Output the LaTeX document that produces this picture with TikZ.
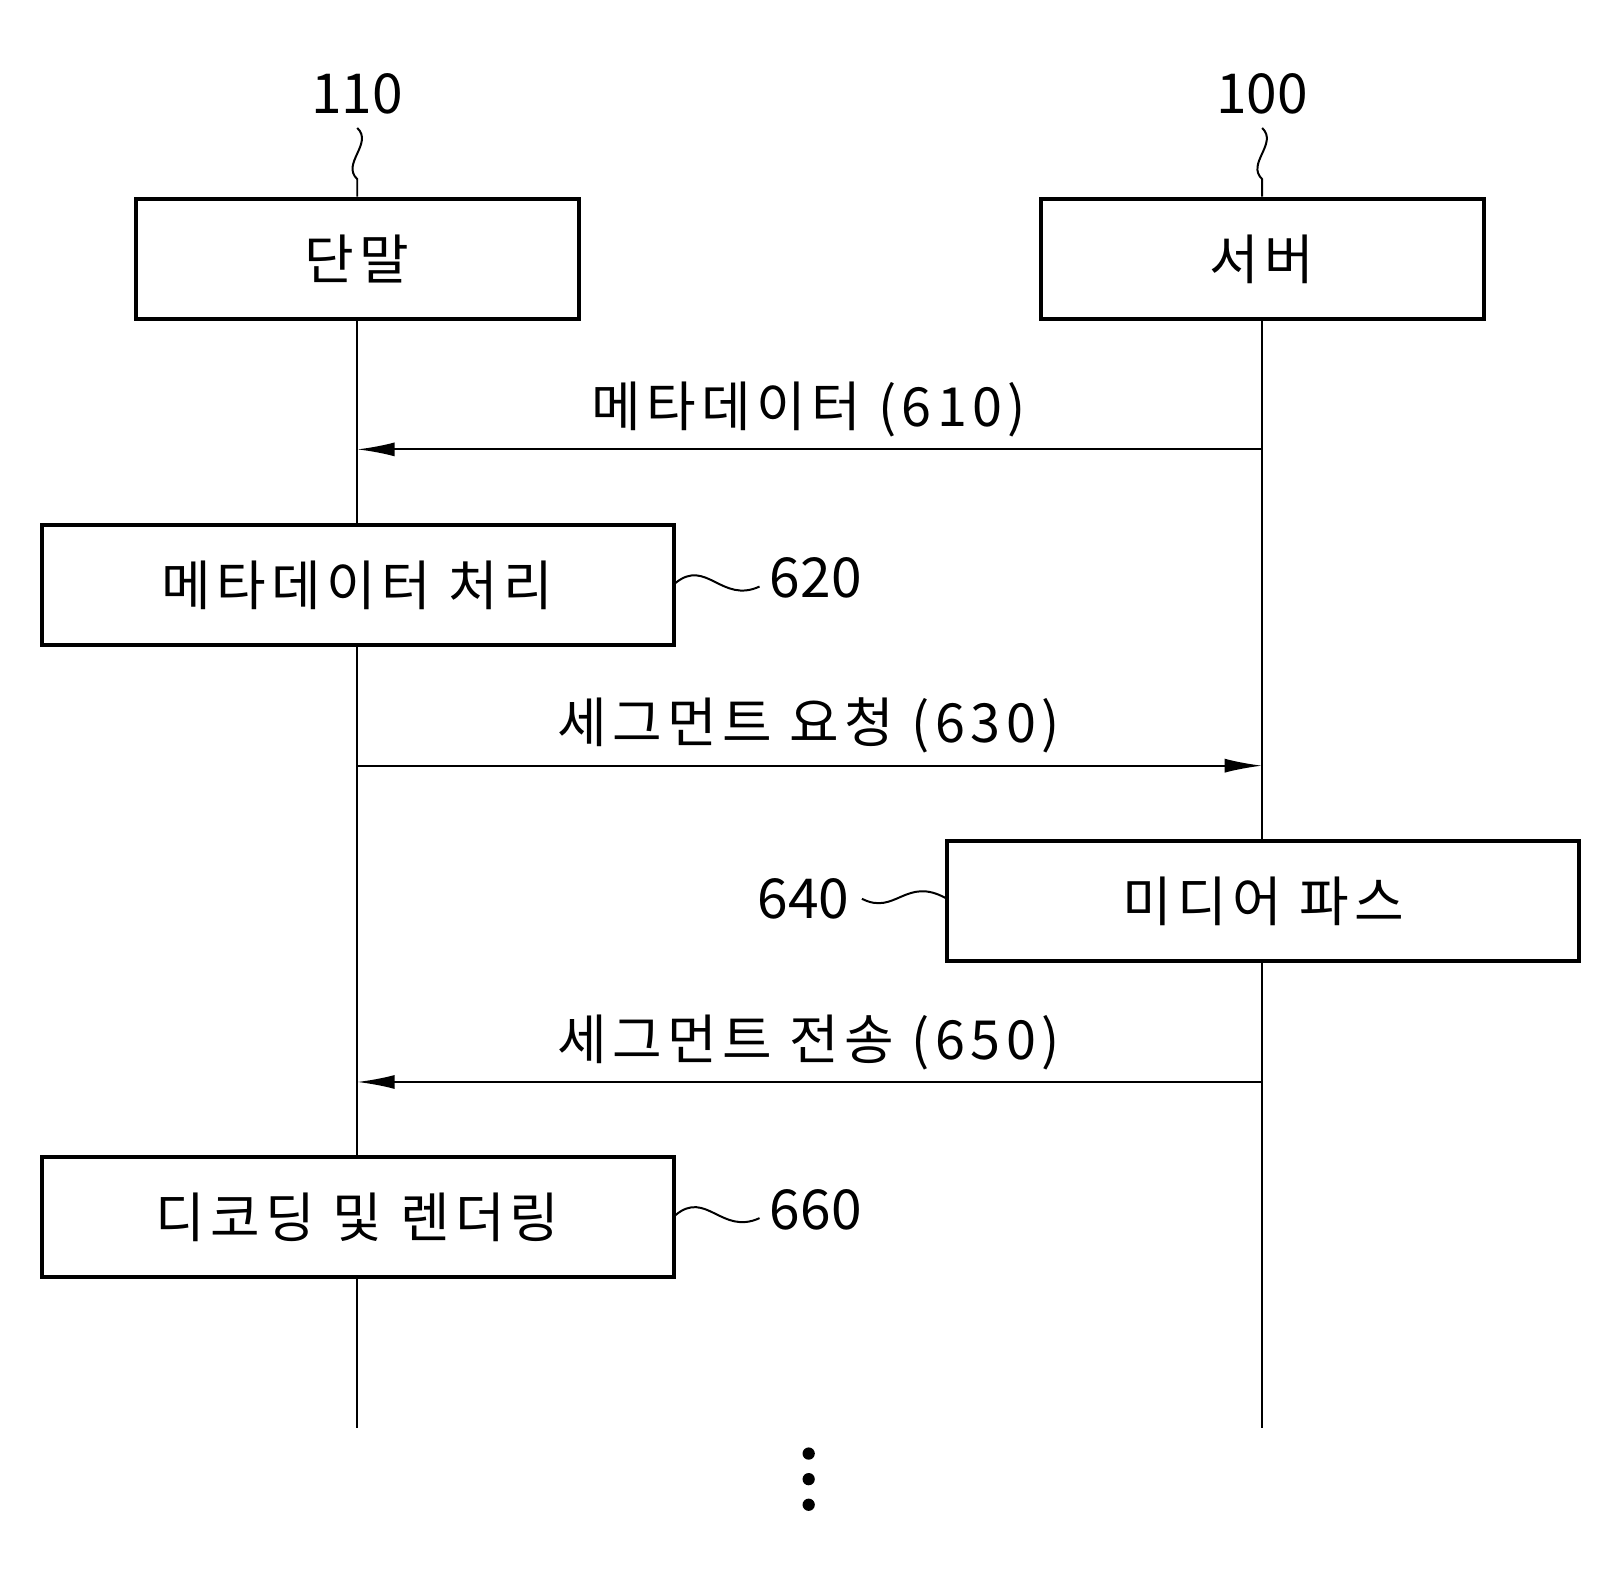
\documentclass[tikz,border=0pt]{standalone}
\usepackage{fontspec}
\setmainfont{Noto Sans CJK KR}
\usetikzlibrary{arrows.meta}
\begin{document}
\begin{tikzpicture}[x=0.030708cm,y=-0.030708cm,
  box/.style={draw,line width=3.4pt,minimum width=433*0.030708cm,minimum height=117*0.030708cm,inner sep=0pt,font=\fontsize{46}{50}\selectfont\addfontfeature{LetterSpace=10}},
  wbox/.style={box,minimum width=617*0.030708cm},
  lbl/.style={font=\fontsize{46}{50}\selectfont\addfontfeature{LetterSpace=10}},
  num/.style={font=\fontsize{47}{50}\selectfont},
  life/.style={line width=1.7pt},
  msg/.style={line width=1.7pt,-{Latex[length=32pt,width=12pt]}},
  sq/.style={line width=1.7pt}]
\useasboundingbox (0,0) rectangle (1566,1532);
\node[box] (t) at (349,253) {단말};
\node[box] (s) at (1233,253) {서버};
\node[num] (n110) at (349,92) {110};
\node[num] (n100) at (1233,92) {100};
\draw[sq] (349,125) .. controls (365,140) and (333,160) .. (349,175) -- (349,192);
\draw[sq] (1233,125) .. controls (1249,140) and (1217,160) .. (1233,175) -- (1233,192);
\coordinate (tb) at (349,1395);
\coordinate (sb) at (1233,1395);
\draw[life] (t.south) -- (tb);
\draw[life] (s.south) -- (sb);
\node[wbox,fill=white] (p620) at (349.5,571.5) {메타데이터 처리};
\node[wbox,fill=white] (p640) at (1234,880.5) {미디어 파스};
\node[wbox,fill=white] (p660) at (349.5,1189) {디코딩 및 렌더링};
\coordinate (a1) at (1233,439); \coordinate (a1e) at (349,439);
\draw[msg] (a1) -- (a1e);
\node[lbl] at (790,400) {메타데이터 (610)};
\coordinate (a2) at (349,748); \coordinate (a2e) at (1233,748);
\draw[msg] (a2) -- (a2e);
\node[lbl] at (790,709) {세그먼트 요청 (630)};
\coordinate (a3) at (1233,1057); \coordinate (a3e) at (349,1057);
\draw[msg] (a3) -- (a3e);
\node[lbl] at (790,1018) {세그먼트 전송 (650)};
\node[num] (n620) at (797,565) {620};
\node[num] (n640) at (785,878) {640};
\node[num] (n660) at (797,1182) {660};
\draw[sq] (p620.east) ++(0,-2) .. controls (690,545) and (705,590) .. (742,573);
\draw[sq] (842,878) .. controls (875,895) and (885,855) .. (925,878);
\draw[sq] (p660.east) ++(0,-2) .. controls (690,1162) and (705,1207) .. (742,1190);
\foreach \y in {1420,1445,1470} \fill (790,\y) circle (6);
\end{tikzpicture}
\end{document}
